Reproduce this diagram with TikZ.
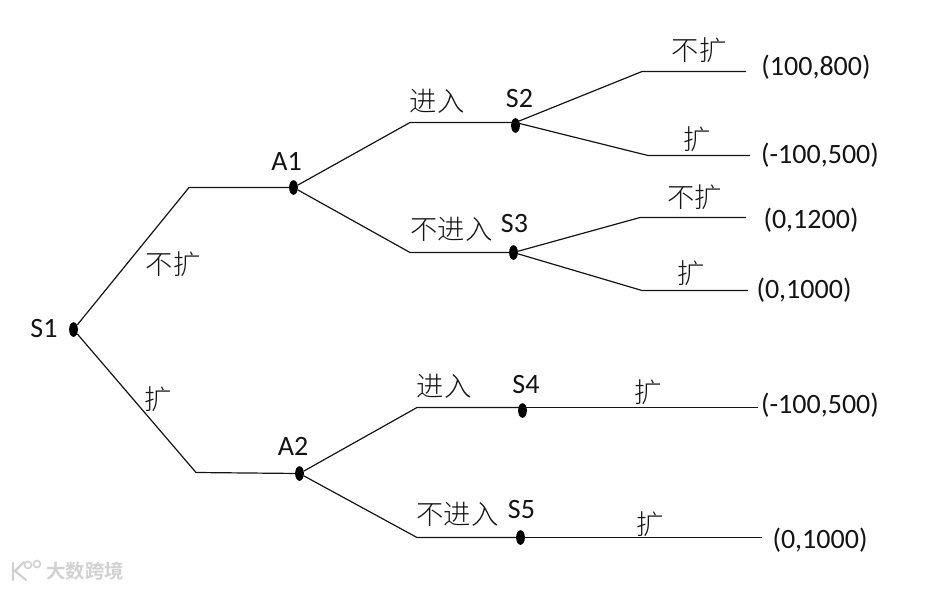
\documentclass[tikz,border=0pt]{standalone}
\usepackage{fontspec}
\setmainfont{Carlito}
\newfontfamily\cjkfont{Noto Sans CJK SC Light}
\usetikzlibrary{shapes.geometric}
\definecolor{ink}{RGB}{20,20,20}
\tikzset{
  dot/.style={ellipse,fill=black,inner sep=0pt,minimum width=6.6pt,minimum height=11pt},
  branch/.style={draw=ink,line width=0.9pt},
  tag/.style={font=\fontsize{21}{24}\selectfont,text=ink,inner sep=0pt},
  act/.style={font=\fontsize{20.5}{24}\selectfont\cjkfont,text=ink,inner sep=0pt},
}
\begin{document}
\begin{tikzpicture}[x=0.75pt,y=-0.75pt]
    \useasboundingbox (0,0) rectangle (946,589);
    % Decision points
    \node[dot] (s1) at (73.5,329.5) {};
    \node[dot] (a1) at (293.5,187.5) {};
    \node[dot] (a2) at (299.5,473.5) {};
    \node[dot] (s2) at (515.5,125.5) {};
    \node[dot] (s3) at (513.5,252.5) {};
    \node[dot] (s4) at (522.5,410.5) {};
    \node[dot] (s5) at (520.5,537.5) {};
    % Names
    \node[tag] (ls1) at (44,328.5) {S1};
    \node[tag] (la1) at (286.5,161) {A1};
    \node[tag] (la2) at (293,446) {A2};
    \node[tag] (ls2) at (519.5,99) {S2};
    \node[tag] (ls3) at (514.5,224) {S3};
    \node[tag] (ls4) at (526,385) {S4};
    \node[tag] (ls5) at (521.5,510) {S5};
    % Bends and ends
    \coordinate (b1) at (189,187.5);
    \coordinate (b2) at (196,472.5);
    \coordinate (b3) at (410,122.5);
    \coordinate (b4) at (410,252.5);
    \coordinate (b5) at (417,407.5);
    \coordinate (b6) at (417,537.5);
    \coordinate (b7) at (642,71.5);
    \coordinate (b8) at (648,155.5);
    \coordinate (b9) at (640,217.5);
    \coordinate (b10) at (642,290.5);
    \coordinate (e1) at (746,71.5);
    \coordinate (e2) at (750,155.5);
    \coordinate (e3) at (746,217.5);
    \coordinate (e4) at (748,290.5);
    \coordinate (e5) at (758,407.5);
    \coordinate (e6) at (762,537.5);
    % Branches
    \draw[branch] (s1) -- (b1) -- (a1);
    \draw[branch] (s1) -- (b2) -- (a2);
    \draw[branch] (a1) -- (b3) -- (b3 -| s2);
    \draw[branch] (a1) -- (b4) -- (s3);
    \draw[branch] (a2) -- (b5) -- (b5 -| s4);
    \draw[branch] (a2) -- (b6) -- (s5);
    \draw[branch] (b3 -| s2) -- (b7) -- (e1);
    \draw[branch] (b3 -| s2) -- (b8) -- (e2);
    \draw[branch] (s3) -- (b9) -- (e3);
    \draw[branch] (s3) -- (b10) -- (e4);
    \draw[branch] (e5 -| s4) -- (e5);
    \draw[branch] (s5) -- (e6);
    % Actions
    \node[act] (t1) at (173,264.5) {不扩};
    \node[act] (t2) at (158,399) {扩};
    \node[act] (t3) at (437,101) {进入};
    \node[act] (t4) at (451.5,229) {不进入};
    \node[act] (t5) at (444,386) {进入};
    \node[act] (t6) at (457.5,514) {不进入};
    \node[act] (t7) at (699,50) {不扩};
    \node[act] (t8) at (697,139) {扩};
    \node[act] (t9) at (694.5,197) {不扩};
    \node[act] (t10) at (691.5,273) {扩};
    \node[act] (t11) at (648.5,392) {扩};
    \node[act] (t12) at (650.5,524) {扩};
    % Payoffs
    \node[tag] (p1) at (816,67.5) {(100,800)};
    \node[tag] (p2) at (820,155.5) {(-100,500)};
    \node[tag] (p3) at (811,220) {(0,1200)};
    \node[tag] (p4) at (804,290.5) {(0,1000)};
    \node[tag] (p5) at (820,405.5) {(-100,500)};
    \node[tag] (p6) at (820,540) {(0,1000)};
    % Watermark
    \node[font=\fontsize{14.5}{16}\bfseries\cjkfont,text=black!18,inner sep=0pt] (wm) at (85,571) {大数跨境};
    \draw[black!18,line width=1.6pt,line cap=round] (13,563) -- (13,580) (24,562) -- (15,571) -- (26,580);
    \draw[black!18,line width=1.2pt] (28,565) circle (3.5) (37,564) circle (3.5);
\end{tikzpicture}
\end{document}
